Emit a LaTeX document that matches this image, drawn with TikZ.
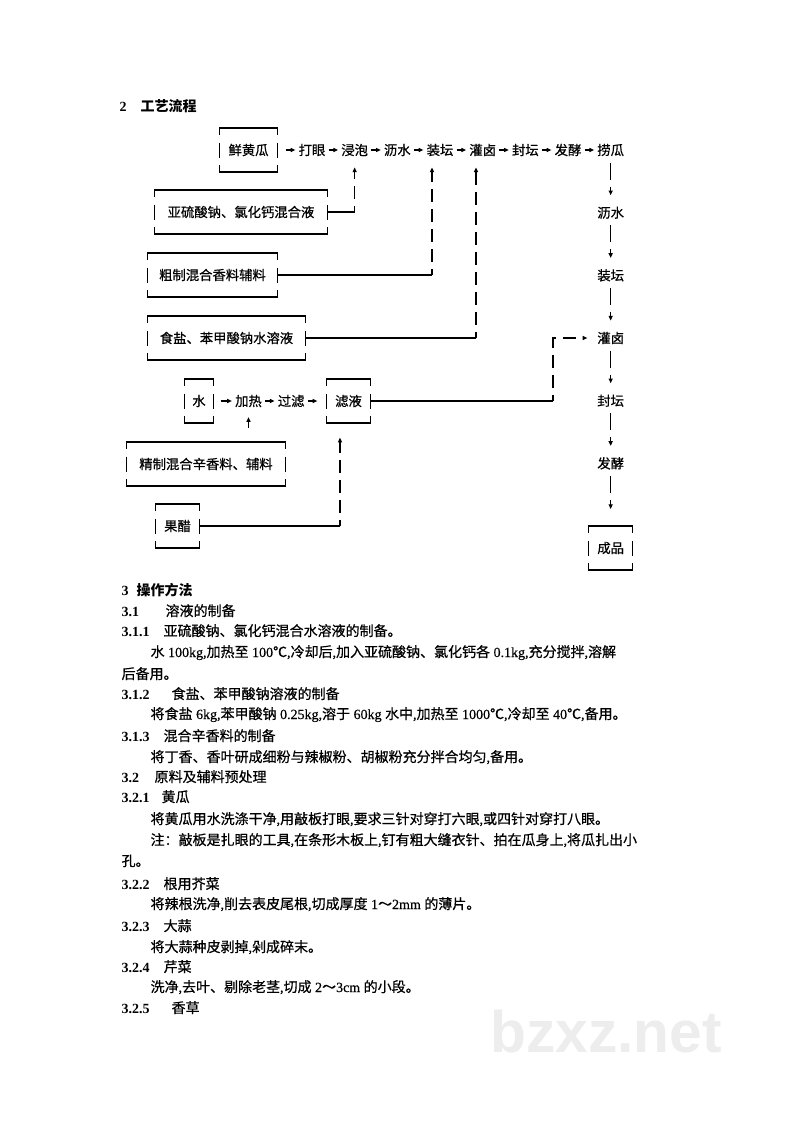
\documentclass[tikz,border=0pt]{standalone}
\usepackage{fontspec}
\setmainfont{Liberation Serif}
\newfontfamily\cjk[UprightFeatures={FakeBold=0.6}]{Noto Sans CJK SC}
\newfontfamily\lat[UprightFeatures={FakeBold=0.4}]{Liberation Serif}
\newfontfamily\wmfont{Liberation Sans}
\usetikzlibrary{arrows.meta,positioning}
\newcommand\sect[3]{\makebox[#2][l]{\lat\bfseries #1}#3}
\tikzset{
	>={Triangle[length=3.5pt,width=3pt]}, % small solid heads
	on grid,
	node distance=47pt,
	stepnode/.style={font=\cjk\fontsize{10pt}{12pt}\selectfont, inner xsep=2pt, inner ysep=1pt},
	stock/.style={stepnode, inner xsep=5pt, minimum height=32pt,
		append after command={\pgfextra{\let\stk\tikzlastnode
			\begin{pgfinterruptpath}
			\draw (\stk.north west) ++(0,7) |- (\stk.north east) -- ++(0,7)
				(\stk.south west) ++(0,-7) |- (\stk.south east) -- ++(0,-7)
				(\stk.west) ++(0,-7.5) -- ++(0,15)
				(\stk.east) ++(0,-7.5) -- ++(0,15);
			\end{pgfinterruptpath}}}},
	flow/.style={->},
	drop/.style={->, dash pattern=on 12.75pt off 5.25pt, shorten <=3.5pt, shorten >=7pt},
	rise/.style={->, dash pattern=on 9.75pt off 5.25pt, dash phase=5.25pt, shorten >=7pt},
	bodyline/.style={anchor=west, inner sep=0pt, text height=8pt, text depth=2pt, font=\cjk\fontsize{10.5pt}{15.7pt}\selectfont},
}

\begin{document}
\begin{tikzpicture}[x=0.75pt, y=-0.75pt, line width=0.9pt]
	\path[use as bounding box, fill=white] (0,0) rectangle (800,1131);

	\node[bodyline, font=\cjk\bfseries\fontsize{10.5pt}{12pt}\selectfont] (hd) at (119,108) {{\lat 2}\quad 工艺流程};

	% main line
	\node[stock, minimum width=42.75pt] (xhg) at (248.5,150) {鲜黄瓜};
	\node[stepnode] (dy) at (312,150) {打眼};
	\node[stepnode, right=32pt of dy] (jp) {浸泡};
	\node[stepnode, right=32pt of jp] (ls1) {沥水};
	\node[stepnode, right=32pt of ls1] (zt1) {装坛};
	\node[stepnode, right=32pt of zt1] (gl1) {灌卤};
	\node[stepnode, right=32pt of gl1] (ft1) {封坛};
	\node[stepnode, right=32pt of ft1] (fj1) {发酵};
	\node[stepnode, right=32pt of fj1] (lg) {捞瓜};

	% down the right side
	\node[stepnode, below=of lg] (ls2) {沥水};
	\node[stepnode, below=of ls2] (zt2) {装坛};
	\node[stepnode, below=of zt2] (gl2) {灌卤};
	\node[stepnode, below=of gl2] (ft2) {封坛};
	\node[stepnode, below=of ft2] (fj2) {发酵};
	\node[stock, minimum width=32.25pt, below=63.5pt of fj2] (cp) {成品};

	% supplies
	\node[stock, minimum width=129pt] (yls) at (241,212) {亚硫酸钠、氯化钙混合液};
	\node[stock, minimum width=97pt] (czxl) at (212.5,275) {粗制混合香料辅料};
	\node[stock, minimum width=118pt] (sbsy) at (226.5,338) {食盐、苯甲酸钠水溶液};
	\node[stock, minimum width=21pt] (shui) at (199,401) {水};
	\node[stepnode] (jr) at (248.5,401) {加热};
	\node[stepnode, right=32pt of jr] (glv) {过滤};
	\node[stock, minimum width=32.25pt] (lvye) at (348.5,401) {滤液};
	\node[stock, minimum width=118pt] (jzxl) at (206,464) {精制混合辛香料、辅料};
	\node[stock, minimum width=32.25pt] (guocu) at (177.5,526) {果醋};

	\draw[flow, shorten <=6pt] (xhg) -- (dy);
	\draw[flow] (dy) -- (jp);
	\draw[flow] (jp) -- (ls1);
	\draw[flow] (ls1) -- (zt1);
	\draw[flow] (zt1) -- (gl1);
	\draw[flow] (gl1) -- (ft1);
	\draw[flow] (ft1) -- (fj1);
	\draw[flow] (fj1) -- (lg);

	\draw[drop] (lg) -- (ls2);
	\draw[drop] (ls2) -- (zt2);
	\draw[drop] (zt2) -- (gl2);
	\draw[drop] (gl2) -- (ft2);
	\draw[drop] (ft2) -- (fj2);
	\draw[drop, shorten >=12.75pt] (fj2) -- (cp);

	% feeds into the main line
	\coordinate (ztin) at ([xshift=-6pt]zt1.south);
	\coordinate (glin) at ([xshift=-5pt]gl1.south);
	\draw (yls.east) -- (yls.east -| jp.south);
	\draw[rise] (yls.east -| jp.south) -- (jp.south);
	\draw (czxl.east) -- (czxl.east -| ztin);
	\draw[rise] (czxl.east -| ztin) -- (ztin);
	\draw (sbsy.east) -- (sbsy.east -| glin);
	\draw[rise] (sbsy.east -| glin) -- (glin);

	% brine from the filtrate
	\draw[flow, shorten <=5.25pt] (shui) -- (jr);
	\draw[flow] (jr) -- (glv);
	\draw[flow, shorten >=6.75pt] (glv) -- (lvye);
	\draw[flow, shorten <=10.5pt, shorten >=6pt] (jzxl.north -| jr.south) -- (jr.south);
	\coordinate (lvin) at ([xshift=-6.4pt]lvye.south);
	\draw (guocu.east) -- (guocu.east -| lvin);
	\draw[rise, shorten >=11pt] (guocu.east -| lvin) -- (lvin);
	\coordinate (lvturn) at (553,401);
	\draw (lvye.east) -- (lvturn);
	\draw[rise, shorten >=5pt] (lvturn) |- (gl2.west);

	% text below
	\node[bodyline] (ln1) at (121,591) {\sect{3}{11.25pt}{\bfseries 操作方法}};
	\node[bodyline] (ln2) at (121,612) {\sect{3.1}{33pt}{溶液的制备}};
	\node[bodyline] (ln3) at (121,632) {\sect{3.1.1}{31.5pt}{亚硫酸钠、氯化钙混合水溶液的制备。}};
	\node[bodyline] (ln4) at (150,653) {水{\lat\ 100kg,}加热至{\lat\ 100}℃{\lat ,}冷却后{\lat ,}加入亚硫酸钠、氯化钙各{\lat\ 0.1kg,}充分搅拌{\lat ,}溶解};
	\node[bodyline] (ln5) at (121,675) {后备用。};
	\node[bodyline] (ln6) at (121,695) {\sect{3.1.2}{37.5pt}{食盐、苯甲酸钠溶液的制备}};
	\node[bodyline] (ln7) at (150,715) {将食盐{\lat\ 6kg,}苯甲酸钠{\lat\ 0.25kg,}溶于{\lat\ 60kg }水中{\lat ,}加热至{\lat\ 1000}℃{\lat ,}冷却至{\lat\ 40}℃{\lat ,}备用。};
	\node[bodyline] (ln8) at (121,737) {\sect{3.1.3}{31.5pt}{混合辛香料的制备}};
	\node[bodyline] (ln9) at (150,758) {将丁香、香叶研成细粉与辣椒粉、胡椒粉充分拌合均匀{\lat ,}备用。};
	\node[bodyline] (ln10) at (121,778) {\sect{3.2}{24.75pt}{原料及辅料预处理}};
	\node[bodyline] (ln11) at (121,798) {\sect{3.2.1}{30pt}{黄瓜}};
	\node[bodyline] (ln12) at (150,820) {将黄瓜用水洗涤干净{\lat ,}用敲板打眼{\lat ,}要求三针对穿打六眼{\lat ,}或四针对穿打八眼。};
	\node[bodyline] (ln13) at (150,841) {注：敲板是扎眼的工具{\lat ,}在条形木板上{\lat ,}钉有粗大缝衣针、拍在瓜身上{\lat ,}将瓜扎出小};
	\node[bodyline] (ln14) at (121,862) {孔。};
	\node[bodyline] (ln15) at (121,885) {\sect{3.2.2}{31.5pt}{根用芥菜}};
	\node[bodyline] (ln16) at (150,905) {将辣根洗净{\lat ,}削去表皮尾根{\lat ,}切成厚度{\lat\ 1}～{\lat 2mm }的薄片。};
	\node[bodyline] (ln17) at (121,927) {\sect{3.2.3}{31.5pt}{大蒜}};
	\node[bodyline] (ln18) at (150,948) {将大蒜种皮剥掉{\lat ,}剁成碎末。};
	\node[bodyline] (ln19) at (121,968) {\sect{3.2.4}{31.5pt}{芹菜}};
	\node[bodyline] (ln20) at (150,988) {洗净{\lat ,}去叶、剔除老茎{\lat ,}切成{\lat\ 2}～{\lat 3cm }的小段。};
	\node[bodyline] (ln21) at (121,1009) {\sect{3.2.5}{37.5pt}{香草}};

	\node[font=\wmfont\bfseries\fontsize{44pt}{44pt}\selectfont, text=black!7, inner sep=0pt] (wm) at (606,1032) {bzxz.net};
\end{tikzpicture}
\end{document}
